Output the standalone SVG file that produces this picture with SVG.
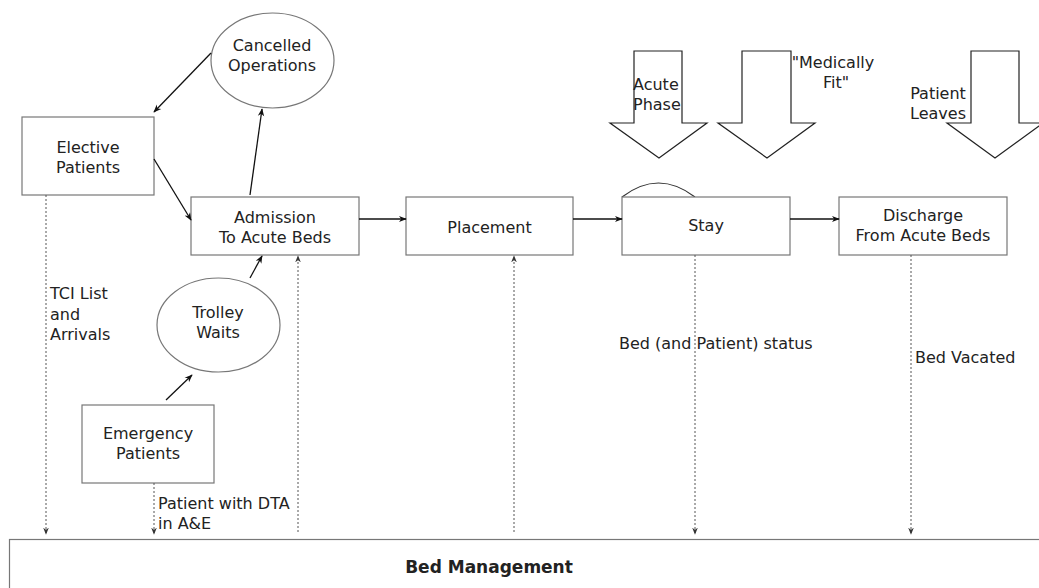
<svg xmlns="http://www.w3.org/2000/svg" width="1039" height="588" viewBox="0 0 1039 588">
<style>
.n{fill:#fff;stroke:#777;stroke-width:1.2}
.t{font-family:"DejaVu Sans",Verdana,sans-serif;font-size:16px;fill:#222}
.c{text-anchor:middle}
.e{fill:none;stroke:#111;stroke-width:1.3}
.d{fill:none;stroke:#555;stroke-width:1;stroke-dasharray:2,2}
.b{fill:#fff;stroke:#222;stroke-width:1.2}
</style>
<defs>
<marker id="a" viewBox="0 0 10 10" refX="9" refY="5" markerWidth="8" markerHeight="8" markerUnits="userSpaceOnUse" orient="auto"><path d="M0,1 L10,5 L0,9 L3,5 z" fill="#111"/></marker>
<marker id="ad" viewBox="0 0 10 10" refX="9" refY="5" markerWidth="7" markerHeight="7" markerUnits="userSpaceOnUse" orient="auto"><path d="M0,1 L10,5 L0,9 L3,5 z" fill="#333"/></marker>
</defs>
<rect width="1039" height="588" fill="#fff"/>

<g id="bed-management">
<rect x="9.5" y="539.5" width="1040" height="60" class="n"/>
<text x="489" y="573" class="t c" style="font-weight:bold;font-size:17px">Bed Management</text>
</g>

<g id="elective">
<rect x="22" y="117" width="132" height="78" class="n"/>
<text x="88" y="152.5" class="t c">Elective</text>
<text x="88" y="172.5" class="t c">Patients</text>
</g>

<g id="cancelled">
<ellipse cx="272.5" cy="60.5" rx="61.5" ry="47.5" class="n"/>
<text x="272" y="51" class="t c">Cancelled</text>
<text x="272" y="71" class="t c">Operations</text>
</g>

<g id="admission">
<rect x="191" y="197" width="168" height="58" class="n"/>
<text x="275" y="223" class="t c">Admission</text>
<text x="275" y="243" class="t c">To Acute Beds</text>
</g>

<g id="placement">
<rect x="406" y="197" width="167" height="58" class="n"/>
<text x="489.5" y="233" class="t c">Placement</text>
</g>

<g id="stay">
<path d="M622,197 Q658.5,169 695,197" class="n" style="fill:none;stroke:#333"/>
<rect x="622" y="197" width="168" height="58" class="n"/>
<text x="706" y="231" class="t c">Stay</text>
</g>

<g id="discharge">
<rect x="839" y="197" width="168" height="58" class="n"/>
<text x="923" y="221" class="t c">Discharge</text>
<text x="923" y="240.5" class="t c">From Acute Beds</text>
</g>

<g id="trolley">
<ellipse cx="218.5" cy="325" rx="61.5" ry="47" class="n"/>
<text x="218" y="318" class="t c">Trolley</text>
<text x="218" y="338" class="t c">Waits</text>
</g>

<g id="emergency">
<rect x="82" y="405" width="132" height="78" class="n"/>
<text x="148" y="439" class="t c">Emergency</text>
<text x="148" y="459" class="t c">Patients</text>
</g>

<g id="acute-phase">
<path d="M634,51 H682 V123 H707 L659,158 L610,123 H634 Z" class="b"/>
<text x="633" y="89.5" class="t">Acute</text>
<text x="633" y="110" class="t">Phase</text>
</g>

<g id="medically-fit">
<path d="M742,51 H791 V123 H815 L767,158 L718,123 H742 Z" class="b"/>
<text x="833" y="67.5" class="t c">"Medically</text>
<text x="836" y="88" class="t c">Fit"</text>
</g>

<g id="patient-leaves">
<path d="M971,51 H1019 V123 H1043 L995,158 L947,123 H971 Z" class="b"/>
<text x="938" y="99" class="t c">Patient</text>
<text x="938" y="119" class="t c">Leaves</text>
</g>

<g id="connectors">
<line x1="211" y1="53" x2="154" y2="112" class="e" marker-end="url(#a)"/>
<line x1="154" y1="159" x2="191" y2="220" class="e" marker-end="url(#a)"/>
<line x1="250" y1="195" x2="262" y2="109" class="e" marker-end="url(#a)"/>
<line x1="166" y1="400" x2="192" y2="375" class="e" marker-end="url(#a)"/>
<line x1="250" y1="278" x2="262" y2="256" class="e" marker-end="url(#a)"/>
<line x1="359" y1="219" x2="406" y2="219" class="e" marker-end="url(#a)"/>
<line x1="573" y1="219" x2="622" y2="219" class="e" marker-end="url(#a)"/>
<line x1="790" y1="219" x2="839" y2="219" class="e" marker-end="url(#a)"/>

<line x1="46" y1="195" x2="46" y2="534" class="d" marker-end="url(#ad)"/>
<line x1="154" y1="483" x2="154" y2="534" class="d" marker-end="url(#ad)"/>
<line x1="298" y1="532" x2="298" y2="256" class="d" marker-end="url(#ad)"/>
<line x1="514" y1="532" x2="514" y2="256" class="d" marker-end="url(#ad)"/>
<line x1="695" y1="255" x2="695" y2="534" class="d" marker-end="url(#ad)"/>
<line x1="911" y1="255" x2="911" y2="534" class="d" marker-end="url(#ad)"/>

<text x="50" y="299" class="t">TCI List</text>
<text x="50" y="319.5" class="t">and</text>
<text x="50" y="340" class="t">Arrivals</text>
<text x="158" y="509" class="t">Patient with DTA</text>
<text x="158" y="529" class="t">in A&amp;E</text>
<text x="619" y="349" class="t">Bed (and Patient) status</text>
<text x="915" y="362.5" class="t">Bed Vacated</text>
</g>
</svg>
